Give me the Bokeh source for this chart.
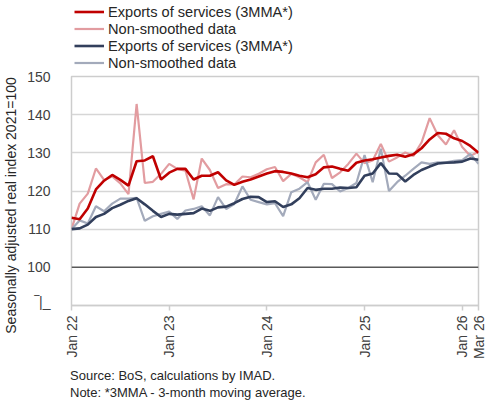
import math
from bokeh.plotting import figure
from bokeh.models import Range1d, FixedTicker, Span, Legend, LegendItem, Div, Title
from bokeh.layouts import column, row
from bokeh.embed import file_html
from bokeh.resources import INLINE

# ---- data (monthly, Jan 2022 .. Mar 2026) ----
red_3mma = [113.0,112.6,115.4,120.4,122.7,124.2,122.9,121.4,127.8,128.0,129.1,
            123.0,124.8,125.8,125.8,123.0,124.0,124.0,124.9,122.8,121.6,
            122.4,123.0,123.8,124.6,125.2,125.0,124.6,124.0,123.6,124.4,
            126.2,126.4,125.8,125.3,127.4,128.0,128.3,128.8,129.2,129.5,
            129.0,129.6,131.2,133.5,135.2,135.0,133.8,133.1,131.8,130.0]
red_raw = [110.0,116.7,119.3,125.9,122.9,123.8,122.0,119.2,142.8,122.1,122.4,
           124.5,127.1,125.8,125.3,117.8,128.5,125.5,120.8,121.8,121.7,
           123.8,123.6,124.5,125.7,126.3,122.6,124.5,123.6,122.3,127.5,
           129.5,123.4,124.9,127.1,129.8,127.3,128.0,132.3,127.7,128.8,
           130.1,129.2,132.7,139.1,134.6,132.2,135.9,131.5,129.2,130.3]
blue_3mma = [110.0,110.2,111.2,113.2,114.0,115.5,116.4,117.4,118.1,116.5,114.8,
             113.2,114.0,113.8,114.0,114.2,115.4,114.8,115.7,115.9,116.8,
             117.9,118.5,118.4,117.1,117.3,115.8,116.5,118.1,120.8,120.3,
             120.6,120.6,120.9,120.8,121.0,124.0,124.6,127.3,124.6,124.5,
             122.5,124.2,125.5,126.4,127.2,127.4,127.5,127.7,128.5,128.2]
blue_raw = [110.0,112.3,111.5,116.0,114.7,116.7,118.0,118.0,118.2,112.2,113.4,
            114.0,114.6,112.7,114.9,115.3,116.0,113.6,118.4,115.3,116.6,
            121.2,117.7,117.1,116.5,116.8,113.4,119.7,120.6,122.3,117.7,
            121.9,121.8,119.9,120.8,122.1,129.4,122.3,131.1,120.0,122.3,
            124.0,125.8,127.5,127.1,127.5,127.5,127.9,128.1,129.7,127.1]
months = list(range(len(red_3mma)))
tick_pos = [0, 12, 24, 36, 48, 50]
tick_labels = ["Jan 22", "Jan 23", "Jan 24", "Jan 25", "Jan 26", "Mar 26"]
y_ticks = [100, 110, 120, 130, 140, 150]
grid_ticks = [110, 120, 130, 140]
break_tick = 91.0
legend_labels = ["Exports of services (3MMA*)", "Non-smoothed data",
                 "Exports of services (3MMA*)", "Non-smoothed data"]
y_title = "Seasonally adjusted real index 2021=100"
notes = ["Source: BoS, calculations by IMAD.",
         "Note: *3MMA - 3-month moving average."]

C_RED = "#C00000"
C_RED_L = "#E29CA0"
C_BLUE = "#323F5C"
C_BLUE_L = "#A3AABB"
FONT = "Liberation Sans"
TXT = "#262626"
GRAY = "#CDCDCD"

YLAB_W = 24          # strip holding the rotated y title
MAIN_W = 466
LEFT = 46            # frame starts 24 + 46 = 70 px
FRAME_W = 408
LEG_H = 70
MAIN_TOP, FRAME_H, MAIN_BOTTOM = 6, 230, 56
MAIN_H = MAIN_TOP + FRAME_H + MAIN_BOTTOM

styles = [(C_RED, 2.6), (C_RED_L, 2.2), (C_BLUE, 2.6), (C_BLUE_L, 2.2)]

def blank(fig):
    fig.outline_line_color = None
    fig.grid.grid_line_color = None
    fig.background_fill_color = "white"
    fig.border_fill_color = "white"

# ---- y title strip ----
py = figure(width=YLAB_W, height=LEG_H + MAIN_H, output_backend="svg", toolbar_location=None,
            x_axis_type=None, y_axis_type=None,
            min_border_left=2, min_border_right=0, min_border_top=48, min_border_bottom=0)
blank(py)
py.add_layout(Title(text=y_title, align="center", text_font=FONT, text_font_size="14px",
                    text_font_style="normal", text_color=TXT, standoff=0), "left")

# ---- legend strip ----
pl = figure(width=MAIN_W, height=LEG_H, output_backend="svg", toolbar_location=None,
            x_axis_type=None, y_axis_type=None, x_range=Range1d(10, 11), y_range=Range1d(10, 11),
            min_border_left=LEFT, min_border_right=0, min_border_top=0, min_border_bottom=0)
blank(pl)
leg_r = [pl.line([0, 1], [0, 0], line_color=c, line_width=w) for c, w in styles]
legend = Legend(items=[LegendItem(label=lab, renderers=[r]) for lab, r in zip(legend_labels, leg_r)],
                location="top_left", orientation="vertical",
                label_text_font=FONT, label_text_font_size="14.6px", label_text_color=TXT,
                glyph_width=30, glyph_height=17, label_height=17, spacing=0,
                padding=0, margin=3, label_standoff=4,
                border_line_color=None, background_fill_alpha=0)
pl.add_layout(legend)

# ---- main chart ----
p = figure(width=MAIN_W, height=MAIN_H, output_backend="svg", toolbar_location=None,
           x_range=Range1d(0, 50), y_range=Range1d(90, 150),
           min_border_left=LEFT, min_border_right=MAIN_W - LEFT - FRAME_W,
           min_border_top=MAIN_TOP, min_border_bottom=MAIN_BOTTOM)
p.background_fill_color = "white"
p.border_fill_color = "white"
p.outline_line_color = GRAY
p.outline_line_width = 1.5

p.xgrid.grid_line_color = None
p.ygrid.ticker = FixedTicker(ticks=grid_ticks)
p.ygrid.grid_line_color = "#D6D6D6"
p.ygrid.grid_line_width = 1.5

p.xaxis.ticker = FixedTicker(ticks=tick_pos)
p.xaxis.major_label_overrides = {t: l for t, l in zip(tick_pos, tick_labels)}
p.xaxis.major_label_orientation = math.pi / 2
p.xaxis.axis_line_color = GRAY
p.xaxis.axis_line_width = 1.5
p.xaxis.major_tick_line_color = GRAY
p.xaxis.major_tick_line_width = 1.5
p.xaxis.major_tick_in = 0
p.xaxis.major_tick_out = 5
p.xaxis.minor_tick_line_color = None
p.xaxis.major_label_standoff = 5
p.xaxis.major_label_text_font = FONT
p.xaxis.major_label_text_font_size = "14px"
p.xaxis.major_label_text_color = "#404040"

p.yaxis.ticker = FixedTicker(ticks=y_ticks + [break_tick])
p.yaxis.major_label_overrides = {break_tick: "\u203e|_"}
p.yaxis.axis_line_color = None
p.yaxis.major_tick_line_color = None
p.yaxis.minor_tick_line_color = None
p.yaxis.major_label_standoff = 15
p.yaxis.major_label_text_font = FONT
p.yaxis.major_label_text_font_size = "14px"
p.yaxis.major_label_text_color = "#404040"

p.add_layout(Span(location=100, dimension="width", line_color="#595959", line_width=1.5))

p.line(months, red_raw, line_color=C_RED_L, line_width=2.2)
p.line(months, blue_raw, line_color=C_BLUE_L, line_width=2.2)
p.line(months, red_3mma, line_color=C_RED, line_width=2.6)
p.line(months, blue_3mma, line_color=C_BLUE, line_width=2.6)

div = Div(text="<div style=\"font-family:'Liberation Sans';font-size:13px;line-height:17px;"
               "color:#262626;padding-left:65px;padding-top:0px;white-space:nowrap\">"
               + "<br>".join(notes) + "</div>",
          width=YLAB_W + MAIN_W, height=38)

layout = column(row(py, column(pl, p, spacing=0), spacing=0), div, spacing=0)
open("out.html", "w").write(file_html(layout, INLINE))
